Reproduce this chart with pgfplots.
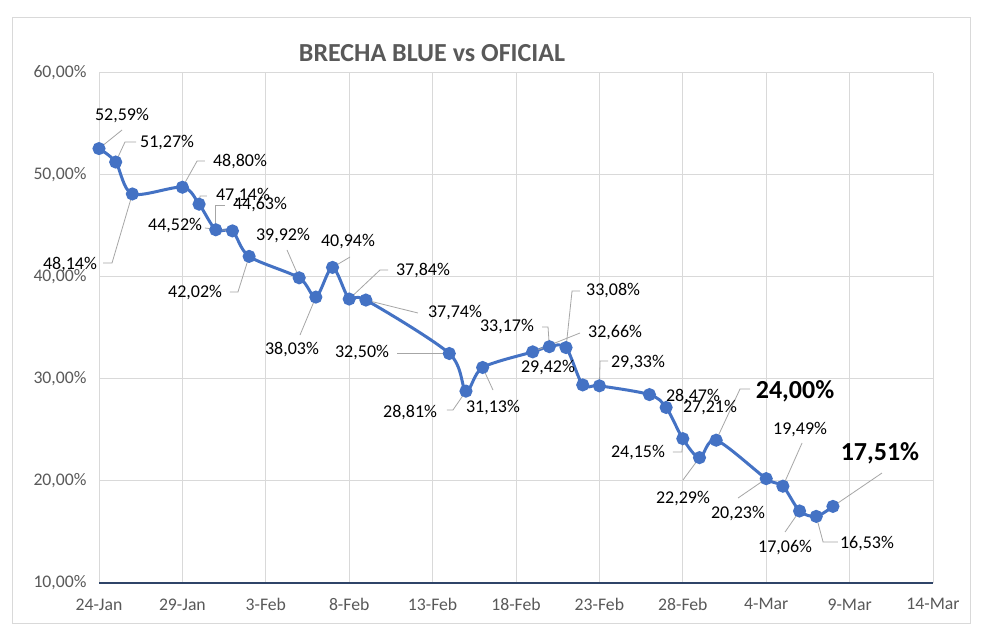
\documentclass[border=0pt]{standalone}
\usepackage{fontspec}
\setmainfont{Carlito}
\usepackage{pgfplots}
\pgfplotsset{compat=1.18}
\definecolor{serie}{HTML}{4472C4}
\definecolor{txtgray}{HTML}{595959}
\definecolor{gridgray}{HTML}{D9D9D9}
\definecolor{leadgray}{HTML}{A6A6A6}
\definecolor{axnavy}{HTML}{2F4468}
\begin{document}
\begin{tikzpicture}[x=1pt,y=1pt,
  lbl/.style={font=\fontsize{18}{20}\selectfont, text=black, inner sep=0pt},
  blbl/.style={font=\fontsize{26}{30}\selectfont\bfseries, text=black, inner sep=0pt},
  ld/.style={leadgray, line width=0.8pt}]
\path[use as bounding box, fill=white] (0,0) rectangle (981,636);
\draw[gridgray, line width=1pt] (12,12) rectangle (970,618);
\node[txtgray, font=\fontsize{26}{30}\selectfont\bfseries] at (432,583) {BRECHA BLUE vs OFICIAL};
\begin{axis}[
  at={(99pt,53pt)}, anchor=south west,
  width=834pt, height=510pt, scale only axis,
  xmin=0, xmax=50, ymin=10, ymax=60,
  xtick={0,5,...,50},
  xticklabels={24-Jan,29-Jan,3-Feb,8-Feb,13-Feb,18-Feb,23-Feb,28-Feb,4-Mar,9-Mar,14-Mar},
  ytick={10,20,...,60},
  /pgf/number format/assume math mode=true,
  yticklabel={\pgfmathprintnumber[fixed,fixed zerofill,precision=2,use comma]{\tick}\%},
  ticklabel style={font=\fontsize{17.7}{20}\selectfont, text=txtgray},
  yticklabel style={xshift=-9pt},
  xticklabel style={yshift=-12pt},
  major tick length=0pt,
  axis x line=bottom, axis y line=left,
  x axis line style={-, draw=axnavy, line width=1.1pt},
  y axis line style={draw=none},
  grid=major, grid style={gridgray, line width=1pt},
  clip=false,
]
\addplot[serie, line width=3pt, smooth, tension=0.5, mark=*, mark size=5pt, mark options={fill=serie, draw=serie}] table {
x y
0 52.59
1 51.27
2 48.14
5 48.80
6 47.14
7 44.63
8 44.52
9 42.02
12 39.92
13 38.03
14 40.94
15 37.84
16 37.74
21 32.50
22 28.81
23 31.13
26 32.66
27 33.17
28 33.08
29 29.42
30 29.33
33 28.47
34 27.21
35 24.15
36 22.29
37 24.00
40 20.23
41 19.49
42 17.06
43 16.53
44 17.51
};
% leader lines
\draw[ld] (axis cs:1.38,54.41) -- (axis cs:0,52.59);
\draw[ld] (axis cs:2.22,53.24) -- (axis cs:1.56,53.24) -- (axis cs:1,51.27);
\draw[ld] (axis cs:0.24,41.37) -- (axis cs:0.78,41.37) -- (axis cs:2,48.14);
\draw[ld] (axis cs:6.35,51.37) -- (axis cs:5.88,51.37) -- (axis cs:5,48.80);
\draw[ld] (axis cs:6.47,47.94) -- (axis cs:6.06,47.94) -- (axis cs:6,47.14);
\draw[ld] (axis cs:7.55,47.06) -- (axis cs:7.0,47.06) -- (axis cs:7,44.63);
\draw[ld] (axis cs:6.35,44.80) -- (axis cs:8,44.52);
\draw[ld] (axis cs:7.85,38.53) -- (axis cs:8.33,38.53) -- (axis cs:9,42.02);
\draw[ld] (axis cs:11.27,42.65) -- (axis cs:12,39.92);
\draw[ld] (axis cs:12.05,34.31) -- (axis cs:13,38.03);
\draw[ld] (axis cs:15.05,41.96) -- (axis cs:14,40.94);
\draw[ld] (axis cs:17.33,40.69) -- (axis cs:16.85,40.69) -- (axis cs:15,37.84);
\draw[ld] (axis cs:19.12,36.47) -- (axis cs:16,37.74);
\draw[ld] (axis cs:17.87,32.50) -- (axis cs:21,32.50);
\draw[ld] (axis cs:20.86,26.96) -- (axis cs:21.22,26.96) -- (axis cs:22,28.81);
\draw[ld] (axis cs:23.62,28.92) -- (axis cs:23,31.13);
\draw[ld] (axis cs:26.56,35.10) -- (axis cs:26.92,35.10) -- (axis cs:27,33.17);
\draw[ld] (axis cs:28.84,38.63) -- (axis cs:28.36,38.63) -- (axis cs:28,33.08);
\draw[ld] (axis cs:28.84,34.51) -- (axis cs:26,32.66);
\draw[ld] (axis cs:30.52,31.76) -- (axis cs:30.04,31.76) -- (axis cs:30,29.33);
\draw[ld] (axis cs:34.41,22.84) -- (axis cs:34.95,22.84) -- (axis cs:35,24.15);
\draw[ld] (axis cs:35.01,20.10) -- (axis cs:36,22.29);
\draw[ld] (axis cs:39.03,29.02) -- (axis cs:38.43,29.02) -- (axis cs:37,24.00);
\draw[ld] (axis cs:38.31,18.33) -- (axis cs:40,20.23);
\draw[ld] (axis cs:42.15,23.73) -- (axis cs:41,19.49);
\draw[ld] (axis cs:41.13,15.00) -- (axis cs:42,17.06);
\draw[ld] (axis cs:44.30,14.02) -- (axis cs:43.41,14.02) -- (axis cs:43,16.53);
\draw[ld] (axis cs:46.94,20.78) -- (axis cs:44,17.51);
% labels
\node[lbl] at (axis cs:1.38,55.88) {52,59\%};
\node[lbl] at (axis cs:4.08,53.14) {51,27\%};
\node[lbl] at (axis cs:-1.74,41.18) {48,14\%};
\node[lbl] at (axis cs:8.45,51.37) {48,80\%};
\node[lbl] at (axis cs:8.63,47.94) {47,14\%};
\node[lbl] at (axis cs:9.65,47.06) {44,63\%};
\node[lbl] at (axis cs:4.56,45.00) {44,52\%};
\node[lbl] at (axis cs:5.76,38.43) {42,02\%};
\node[lbl] at (axis cs:11.03,44.02) {39,92\%};
\node[lbl] at (axis cs:11.57,32.94) {38,03\%};
\node[lbl] at (axis cs:14.93,43.43) {40,94\%};
\node[lbl] at (axis cs:19.42,40.59) {37,84\%};
\node[lbl] at (axis cs:21.34,36.47) {37,74\%};
\node[lbl] at (axis cs:15.77,32.55) {32,50\%};
\node[lbl] at (axis cs:18.65,26.76) {28,81\%};
\node[lbl] at (axis cs:23.62,27.25) {31,13\%};
\node[lbl] at (axis cs:24.46,35.10) {33,17\%};
\node[lbl] at (axis cs:26.92,31.08) {29,42\%};
\node[lbl] at (axis cs:30.82,38.63) {33,08\%};
\node[lbl] at (axis cs:30.94,34.51) {32,66\%};
\node[lbl] at (axis cs:32.31,31.57) {29,33\%};
\node[lbl] at (axis cs:35.61,28.33) {28,47\%};
\node[lbl] at (axis cs:36.63,27.16) {27,21\%};
\node[lbl] at (axis cs:32.31,22.84) {24,15\%};
\node[lbl] at (axis cs:35.01,18.33) {22,29\%};
\node[blbl] at (axis cs:41.73,28.82) {24,00\%};
\node[lbl] at (axis cs:38.31,16.86) {20,23\%};
\node[lbl] at (axis cs:42.03,25.00) {19,49\%};
\node[lbl] at (axis cs:41.13,13.43) {17,06\%};
\node[lbl] at (axis cs:46.04,13.92) {16,53\%};
\node[blbl] at (axis cs:46.82,22.75) {17,51\%};
\end{axis}
\end{tikzpicture}
\end{document}
